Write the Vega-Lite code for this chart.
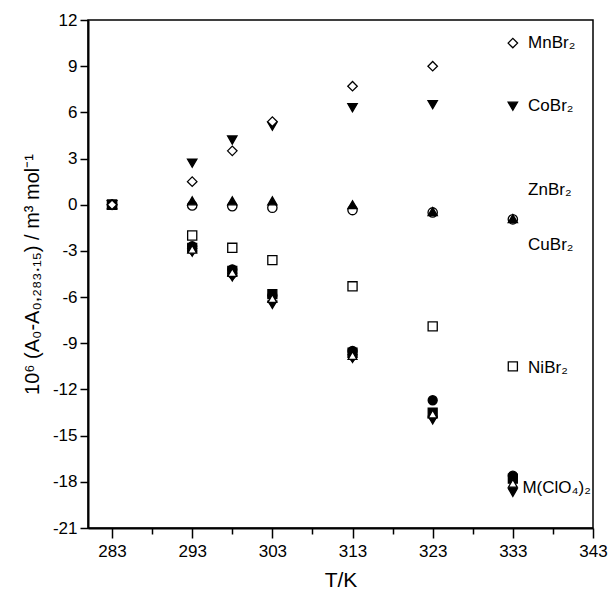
{
  "$schema": "https://vega.github.io/schema/vega-lite/v6.json",
  "width": 505,
  "height": 508,
  "autosize": {"type": "none"},
  "padding": {"left": 88, "top": 20, "right": 16, "bottom": 67},
  "background": "white",
  "config": {
    "view": {"stroke": "black", "strokeWidth": 1.5},
    "font": "Liberation Sans",
    "axis": {"grid": false, "domainColor": "black", "domainWidth": 2, "tickColor": "black", "tickWidth": 1.5,
             "labelColor": "black", "labelFont": "Liberation Sans", "labelFontSize": 17,
             "titleFont": "Liberation Sans", "titleFontWeight": "normal", "titleColor": "black",
             "labelOverlap": false, "labelFlush": false}
  },
  "datasets": {
    "pts": [
      {"T": 283, "v": 0, "m": "P5"}, {"T": 293, "v": -3.1, "m": "P5"}, {"T": 298, "v": -4.7, "m": "P5"}, {"T": 303, "v": -6.5, "m": "P5"}, {"T": 313, "v": -10.0, "m": "P5"}, {"T": 323, "v": -14.0, "m": "P5"}, {"T": 333, "v": -18.7, "m": "P5"},
      {"T": 283, "v": 0, "m": "P4"}, {"T": 293, "v": -3.0, "m": "P4"}, {"T": 298, "v": -4.6, "m": "P4"}, {"T": 303, "v": -6.3, "m": "P4"}, {"T": 313, "v": -9.9, "m": "P4"}, {"T": 323, "v": -13.8, "m": "P4"}, {"T": 333, "v": -18.4, "m": "P4"},
      {"T": 283, "v": 0, "m": "P2"}, {"T": 293, "v": -2.8, "m": "P2"}, {"T": 298, "v": -4.3, "m": "P2"}, {"T": 303, "v": -5.8, "m": "P2"}, {"T": 313, "v": -9.6, "m": "P2"}, {"T": 323, "v": -13.5, "m": "P2"}, {"T": 333, "v": -17.8, "m": "P2"},
      {"T": 283, "v": 0, "m": "P1"}, {"T": 293, "v": -2.7, "m": "P1"}, {"T": 298, "v": -4.2, "m": "P1"}, {"T": 303, "v": -5.9, "m": "P1"}, {"T": 313, "v": -9.5, "m": "P1"}, {"T": 323, "v": -12.7, "m": "P1"}, {"T": 333, "v": -17.6, "m": "P1"},
      {"T": 283, "v": 0, "m": "P3"}, {"T": 293, "v": -2.9, "m": "P3"}, {"T": 298, "v": -4.4, "m": "P3"}, {"T": 303, "v": -6.1, "m": "P3"}, {"T": 313, "v": -9.8, "m": "P3"}, {"T": 323, "v": -13.6, "m": "P3"}, {"T": 333, "v": -18.1, "m": "P3"},
      {"T": 283, "v": 0, "m": "NiBr2"}, {"T": 293, "v": -2.0, "m": "NiBr2"}, {"T": 298, "v": -2.8, "m": "NiBr2"}, {"T": 303, "v": -3.6, "m": "NiBr2"}, {"T": 313, "v": -5.3, "m": "NiBr2"}, {"T": 323, "v": -7.9, "m": "NiBr2"}, {"T": 333, "v": -10.5, "m": "NiBr2"},
      {"T": 283, "v": 0, "m": "ZnBr2"}, {"T": 293, "v": -0.05, "m": "ZnBr2"}, {"T": 298, "v": -0.1, "m": "ZnBr2"}, {"T": 303, "v": -0.2, "m": "ZnBr2"}, {"T": 313, "v": -0.35, "m": "ZnBr2"}, {"T": 323, "v": -0.5, "m": "ZnBr2"}, {"T": 333, "v": -0.95, "m": "ZnBr2"},
      {"T": 283, "v": 0, "m": "CuBr2"}, {"T": 293, "v": 0.25, "m": "CuBr2"}, {"T": 298, "v": 0.25, "m": "CuBr2"}, {"T": 303, "v": 0.25, "m": "CuBr2"}, {"T": 313, "v": 0.0, "m": "CuBr2"}, {"T": 323, "v": -0.45, "m": "CuBr2"}, {"T": 333, "v": -0.9, "m": "CuBr2"},
      {"T": 283, "v": 0, "m": "CoBr2"}, {"T": 293, "v": 2.7, "m": "CoBr2"}, {"T": 298, "v": 4.2, "m": "CoBr2"}, {"T": 303, "v": 5.1, "m": "CoBr2"}, {"T": 313, "v": 6.3, "m": "CoBr2"}, {"T": 323, "v": 6.5, "m": "CoBr2"}, {"T": 333, "v": 6.4, "m": "CoBr2"},
      {"T": 283, "v": 0, "m": "MnBr2"}, {"T": 293, "v": 1.5, "m": "MnBr2"}, {"T": 298, "v": 3.5, "m": "MnBr2"}, {"T": 303, "v": 5.4, "m": "MnBr2"}, {"T": 313, "v": 7.7, "m": "MnBr2"}, {"T": 323, "v": 9.0, "m": "MnBr2"}, {"T": 333, "v": 10.5, "m": "MnBr2"}
    ],
    "labels": [
      {"T": 334.9, "v": 10.5, "label": "MnBr₂"},
      {"T": 334.9, "v": 6.4, "label": "CoBr₂"},
      {"T": 334.9, "v": 0.95, "label": "ZnBr₂"},
      {"T": 334.9, "v": -2.6, "label": "CuBr₂"},
      {"T": 334.9, "v": -10.6, "label": "NiBr₂"},
      {"T": 334.2, "v": -18.4, "label": "M(ClO₄)₂"}
    ]
  },
  "layer": [
    {
      "data": {"name": "pts"},
      "mark": {"type": "point", "filled": false, "stroke": "black", "strokeWidth": 1.3, "opacity": 1},
      "encoding": {
        "x": {"field": "T", "type": "quantitative",
              "scale": {"domain": [280, 343], "nice": false, "zero": false},
              "axis": {"title": "T/K", "titleFontSize": 21, "titlePadding": 10,
                       "values": [283, 288, 293, 298, 303, 308, 313, 318, 323, 328, 333, 338, 343],
                       "labelExpr": "(datum.value - 283) % 10 === 0 ? toString(datum.value) : ''",
                       "tickSize": {"condition": {"test": "(datum.value - 283) % 10 === 0", "value": 10}, "value": 6},
                       "labelPadding": 5}},
        "y": {"field": "v", "type": "quantitative",
              "scale": {"domain": [-21, 12], "nice": false, "zero": false},
              "axis": {"title": "10⁶ (A₀-A₀,₂₈₃.₁₅) / m³ mol⁻¹", "titleFontSize": 20, "titlePadding": 10,
                       "values": [-21, -19.5, -18, -16.5, -15, -13.5, -12, -10.5, -9, -7.5, -6, -4.5, -3, -1.5, 0, 1.5, 3, 4.5, 6, 7.5, 9, 10.5, 12],
                       "labelExpr": "datum.value % 3 === 0 ? toString(datum.value) : ''",
                       "tickSize": {"condition": {"test": "datum.value % 3 === 0", "value": 8}, "value": 4},
                       "labelPadding": 3}},
        "shape": {"field": "m", "type": "nominal", "legend": null,
                  "scale": {"domain": ["MnBr2", "CoBr2", "ZnBr2", "CuBr2", "NiBr2", "P1", "P2", "P3", "P4", "P5"],
                            "range": ["diamond", "triangle-down", "circle", "triangle-up", "square", "circle", "square", "triangle-up", "diamond", "triangle-down"]}},
        "fill": {"field": "m", "type": "nominal", "legend": null,
                 "scale": {"domain": ["MnBr2", "CoBr2", "ZnBr2", "CuBr2", "NiBr2", "P1", "P2", "P3", "P4", "P5"],
                           "range": ["white", "black", "white", "black", "white", "black", "black", "white", "black", "black"]}},
        "size": {"field": "m", "type": "nominal", "legend": null,
                 "scale": {"domain": ["MnBr2", "CoBr2", "ZnBr2", "CuBr2", "NiBr2", "P1", "P2", "P3", "P4", "P5"],
                           "range": [90, 75, 48, 75, 42, 60, 50, 70, 80, 75]}}
      }
    },
    {
      "data": {"name": "labels"},
      "mark": {"type": "text", "align": "left", "baseline": "middle", "font": "Liberation Sans", "fontSize": 17, "color": "black"},
      "encoding": {
        "x": {"field": "T", "type": "quantitative"},
        "y": {"field": "v", "type": "quantitative"},
        "text": {"field": "label"}
      }
    }
  ]
}
